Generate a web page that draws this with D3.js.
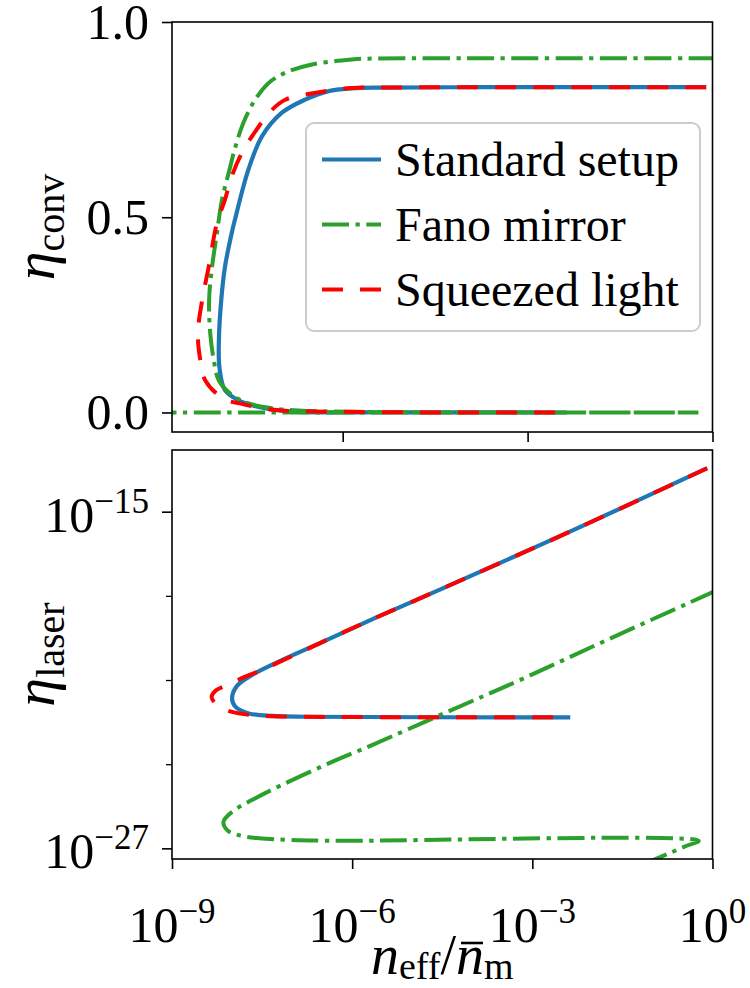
<html>

<head>
    <meta charset="utf-8">
    <script src="https://d3js.org/d3.v7.min.js"></script>
    <style>
        body { margin: 0; background: #fff; }
        text { font-family: "Liberation Serif", "DejaVu Serif", serif; fill: #000; }
    </style>
</head>

<body>
    <script>

        // series names / legend
        var seriesNames = ["Standard setup", "Fano mirror", "Squeezed light"];

        // axis limits and ticks
        var xDomainTop = [1.7e-9, 1];
        var xDomainBottom = [1e-9, 1];
        var convDomain = [-0.05, 1.0];
        var laserDomain = [4.17e-28, 1.58e-13];
        var xTicks = [1e-9, 1e-6, 1e-3, 1e0];
        var xExps = ["−9", "−6", "−3", "0"];
        var convTicks = [0, 0.5, 1.0];
        var laserTicks = [1e-27, 1e-15];
        var laserExps = ["−27", "−15"];
        var laserMinor = [1e-24, 1e-21, 1e-18];

        // top panel: [n_eff/n_m, eta_conv]
        var stdConv = [[0.79, 0.833], [1e-2, 0.833], [1e-4, 0.833], [4.5e-6, 0.832], [1.41e-6, 0.830],
            [5.9e-7, 0.823], [2.45e-7, 0.801], [1.02e-7, 0.767], [4.9e-8, 0.707], [2.95e-8, 0.622],
            [1.78e-8, 0.493], [1.58e-8, 0.459], [1.23e-8, 0.373], [1.07e-8, 0.288], [9.8e-9, 0.185],
            [1.0e-8, 0.116], [1.23e-8, 0.057], [2.04e-8, 0.031], [4.37e-8, 0.014], [1.32e-7, 0.003],
            [1e-5, 0.0005], [4.3e-3, 0]];
        var fanoConv = [[1.12, 0.907], [1e-2, 0.907], [1e-4, 0.907], [2.44e-6, 0.906], [1.41e-6, 0.904],
            [3.16e-7, 0.891], [1.17e-7, 0.870], [6.3e-8, 0.844], [3.8e-8, 0.801], [2.45e-8, 0.742],
            [1.82e-8, 0.681], [1.41e-8, 0.613], [1.1e-8, 0.545], [9.1e-9, 0.459], [7.6e-9, 0.373],
            [6.8e-9, 0.288], [7.1e-9, 0.202], [8.1e-9, 0.134], [9.8e-9, 0.082], [1.51e-8, 0.048],
            [2.63e-8, 0.026], [6.3e-8, 0.012], [1.9e-7, 0.005], [1e-5, 0.0005], [0.59, 0], [3e-10, 0]];
        var sqzConv = [[0.79, 0.833], [1e-2, 0.833], [1e-4, 0.833], [4.5e-6, 0.832], [1.41e-6, 0.831],
            [4.1e-7, 0.820], [1.17e-7, 0.801], [7.1e-8, 0.775], [4.37e-8, 0.733], [2.32e-8, 0.665],
            [1.58e-8, 0.604], [1.23e-8, 0.545], [9.1e-9, 0.485], [6.7e-9, 0.373], [5.25e-9, 0.288],
            [4.47e-9, 0.202], [4.9e-9, 0.134], [5.9e-9, 0.082], [1.17e-8, 0.035], [2.32e-8, 0.022],
            [5.5e-8, 0.0095], [1.02e-7, 0.005], [1e-5, 0.0005], [4.3e-3, 0]];

        // bottom panel: [n_eff/n_m, eta_laser]
        var stdLaser = [[0.815, 3.55e-14], [4.9e-3, 2.24e-16], [2.95e-5, 1.7e-18], [2.14e-6, 1.45e-19],
            [3.16e-7, 2.24e-20], [6.76e-8, 5.1e-21], [2.15e-8, 1.51e-21], [1.21e-8, 6.2e-22],
            [1.0e-8, 2.24e-22], [1.135e-8, 1.12e-22], [1.9e-8, 6.46e-23], [4.68e-8, 5.25e-23],
            [1.66e-7, 4.9e-23], [4.27e-3, 4.68e-23]];
        var fanoLaser = [[1.12, 1.5e-18], [1.76e-2, 2.69e-20], [7.2e-4, 1.15e-21], [4.3e-5, 8.1e-23],
            [2.14e-6, 4.8e-24], [4.07e-7, 1.07e-24], [6.76e-8, 1.82e-25], [2.14e-8, 5.25e-26],
            [1e-8, 2.0e-26], [7.2e-9, 8.9e-27], [8.3e-9, 4.47e-27], [1.29e-8, 2.95e-27],
            [2.79e-8, 2.29e-27], [8.8e-8, 2.0e-27], [6.0e-7, 1.86e-27], [0.59, 1.86e-27],
            [0.38, 1.26e-27], [0.12, 4.37e-28], [1e-2, 5e-29]];
        var sqzLaser = [[0.815, 3.55e-14], [4.9e-3, 2.24e-16], [2.95e-5, 1.7e-18], [2.14e-6, 1.45e-19],
            [3.16e-7, 2.24e-20], [3.16e-8, 2.29e-21], [1.66e-8, 1.32e-21], [8.3e-9, 6.6e-22],
            [5.25e-9, 4.07e-22], [4.57e-9, 2.51e-22], [5.0e-9, 1.66e-22], [6.76e-9, 9.8e-23],
            [1.29e-8, 6.46e-23], [2.79e-8, 5.37e-23], [1.66e-7, 4.9e-23], [4.27e-3, 4.68e-23]];

        var width = 750, height = 988;
        var left = 172, right = 712.5;
        var top1 = 22, bottom1 = 432;
        var top2 = 450, bottom2 = 859;

        var colors = ["#1f77b4", "#2ca02c", "#ff0000"];
        var dashes = [null, "27,6.5,4.3,6.5", "21,17"];
        var widths = [4.2, 4, 4];
        var fontSize = 50, supSize = 35;

        var svg = d3.select("body").append("svg").attr("width", width).attr("height", height);

        var xTop = d3.scaleLog().domain(xDomainTop).range([left, right]);
        var xBot = d3.scaleLog().domain(xDomainBottom).range([left, right]);
        var yConv = d3.scaleLinear().domain(convDomain).range([bottom1, top1]);
        var yLaser = d3.scaleLog().domain(laserDomain).range([bottom2, top2]);

        // clip
        var defs = svg.append("defs");
        defs.append("clipPath").attr("id", "c1").append("rect")
            .attr("x", left).attr("y", top1).attr("width", right - left).attr("height", bottom1 - top1);
        defs.append("clipPath").attr("id", "c2").append("rect")
            .attr("x", left).attr("y", top2).attr("width", right - left).attr("height", bottom2 - top2);

        function drawLines(g, sets, x, y) {
            var line = d3.line()
                .x(function(d) { return x(d[0]); })
                .y(function(d) { return y(d[1]); })
                .curve(d3.curveCatmullRom.alpha(0.5));
            sets.forEach(function(s, i) {
                g.append("path")
                    .attr("d", line(s))
                    .attr("fill", "none")
                    .attr("stroke", colors[i])
                    .attr("stroke-width", widths[i])
                    .attr("stroke-dasharray", dashes[i]);
            });
        }

        drawLines(svg.append("g").attr("clip-path", "url(#c1)"), [stdConv, fanoConv, sqzConv], xTop, yConv);
        drawLines(svg.append("g").attr("clip-path", "url(#c2)"), [stdLaser, fanoLaser, sqzLaser], xBot, yLaser);

        // 軸
        function styleAxis(g) {
            g.select(".domain").remove();
            g.selectAll(".tick line").attr("stroke", "#000").attr("stroke-width", 1.6);
            g.selectAll("text").style("font-family", "Liberation Serif").style("font-size", fontSize + "px").attr("fill", "#000");
        }

        svg.append("g")
            .attr("transform", "translate(" + left + ",0)")
            .call(d3.axisLeft(yConv).tickValues(convTicks).tickSize(10).tickPadding(13).tickFormat(d3.format(".1f")))
            .call(styleAxis);

        svg.append("g")
            .attr("transform", "translate(0," + bottom1 + ")")
            .call(d3.axisBottom(xTop).tickValues([1e-6, 1e-3, 1]).tickSize(10).tickFormat(""))
            .call(styleAxis);

        svg.append("g")
            .attr("transform", "translate(0," + bottom2 + ")")
            .call(d3.axisBottom(xBot).tickValues(xTicks).tickSize(10).tickFormat(""))
            .call(styleAxis);

        svg.append("g")
            .attr("transform", "translate(" + left + ",0)")
            .call(d3.axisLeft(yLaser).tickValues(laserTicks).tickSize(10).tickFormat(""))
            .call(styleAxis);

        svg.append("g")
            .attr("transform", "translate(" + left + ",0)")
            .call(d3.axisLeft(yLaser).tickValues(laserMinor).tickSize(6).tickFormat(""))
            .call(styleAxis)
            .selectAll(".tick line").attr("stroke-width", 1.3);

        // 10^n labels
        function powText(g, exp) {
            g.append("tspan").text("10");
            g.append("tspan").attr("dy", -19).style("font-size", supSize + "px").text(exp);
        }

        svg.append("g").selectAll("text")
            .data(xTicks)
            .enter()
            .append("text")
            .attr("x", function(d) { return xBot(d); })
            .attr("y", 942)
            .attr("text-anchor", "middle")
            .style("font-size", fontSize + "px")
            .each(function(d, i) { powText(d3.select(this), xExps[i]); });

        svg.append("g").selectAll("text")
            .data(laserTicks)
            .enter()
            .append("text")
            .attr("x", 149)
            .attr("y", function(d) { return yLaser(d) + 20; })
            .attr("text-anchor", "end")
            .style("font-size", fontSize + "px")
            .each(function(d, i) { powText(d3.select(this), laserExps[i]); });

        // frames
        svg.append("rect").attr("x", left).attr("y", top1).attr("width", right - left).attr("height", bottom1 - top1)
            .attr("fill", "none").attr("stroke", "#000").attr("stroke-width", 1.6);
        svg.append("rect").attr("x", left).attr("y", top2).attr("width", right - left).attr("height", bottom2 - top2)
            .attr("fill", "none").attr("stroke", "#000").attr("stroke-width", 1.6);

        // axis labels
        function etaLabel(cy, sub) {
            var t = svg.append("text")
                .attr("transform", "translate(54," + cy + ") rotate(-90)")
                .attr("text-anchor", "middle")
                .style("font-size", "58px");
            t.append("tspan").style("font-style", "italic").text("η");
            t.append("tspan").attr("dy", 10).style("font-size", "40px").text(sub);
        }
        etaLabel((top1 + bottom1) / 2, "conv");
        etaLabel((top2 + bottom2) / 2, "laser");

        var xl = svg.append("text")
            .attr("x", (left + right) / 2)
            .attr("y", 974)
            .attr("text-anchor", "middle")
            .style("font-size", "56px");
        xl.append("tspan").style("font-style", "italic").text("n");
        xl.append("tspan").attr("dy", 5).style("font-size", "38px").text("eff");
        xl.append("tspan").attr("dy", -5).text("/");
        xl.append("tspan").style("font-style", "italic").text("n");
        xl.append("tspan").attr("dy", 5).style("font-size", "38px").text("m");
        // bar over second n (index 5)
        var ext = xl.node().getExtentOfChar(5);
        svg.append("line")
            .attr("x1", ext.x + 5).attr("x2", ext.x + ext.width - 1)
            .attr("y1", 943).attr("y2", 943)
            .attr("stroke", "#000").attr("stroke-width", 2.6);

        // legend
        var lg = svg.append("g");
        lg.append("rect").attr("x", 306).attr("y", 123).attr("width", 394).attr("height", 208)
            .attr("rx", 8).attr("fill", "#fff").attr("fill-opacity", 0.8)
            .attr("stroke", "#cccccc").attr("stroke-width", 2);
        seriesNames.forEach(function(name, i) {
            var yy = 159.5 + i * 65;
            lg.append("line").attr("x1", 322).attr("x2", 381).attr("y1", yy).attr("y2", yy)
                .attr("stroke", colors[i]).attr("stroke-width", widths[i])
                .attr("stroke-dasharray", dashes[i]);
            lg.append("text").attr("x", 395).attr("y", yy + 16)
                .style("font-size", "48px").text(name);
        });
    </script>
</body>

</html>
